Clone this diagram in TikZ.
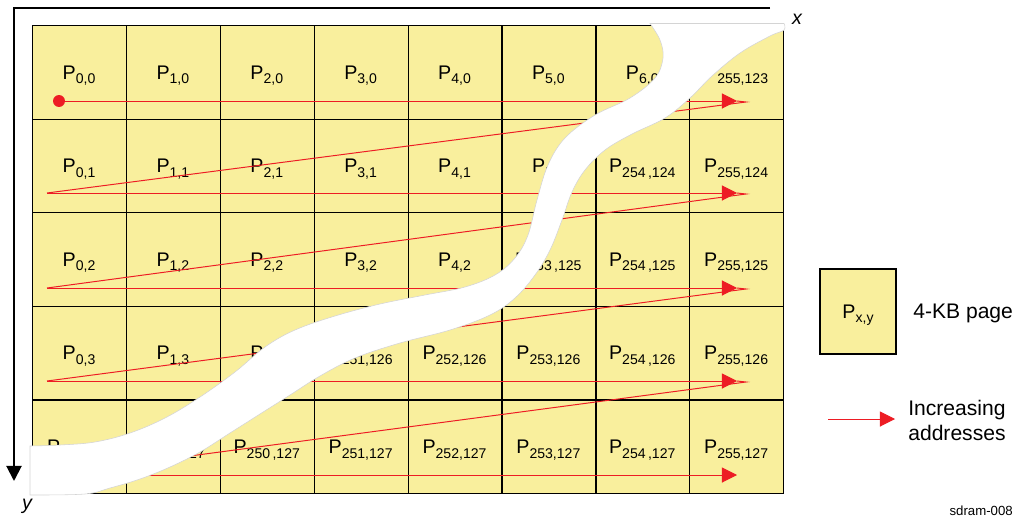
\documentclass[tikz,border=0pt]{standalone}
\usepackage{fontspec}
\setmainfont{Liberation Sans}
\usetikzlibrary{arrows.meta}
\definecolor{PageFill}{HTML}{F9EF9D}
\definecolor{AddrRed}{HTML}{ED1C24}
\definecolor{CutEdge}{HTML}{D4D4D4}
\newcommand{\pg}[1]{P\raisebox{-3.4pt}{\fontsize{10}{12}\selectfont #1}}
\tikzset{
  every node/.style={font=\fontsize{14}{17}\selectfont, inner sep=0pt},
  page/.style={draw=black, line width=0.9pt, fill=PageFill, minimum width=2.347cm, minimum height=2.34cm},
  axis/.style={-{Triangle[length=10.7pt,width=10.7pt]}, draw=black, line width=1.4pt},
  addr/.style={draw=AddrRed, line width=0.7pt},
  addrhead/.style={-{Triangle[length=10.7pt,width=10.7pt]}, draw=AddrRed, line width=0.7pt},
  dot/.style={circle, fill=AddrRed, minimum size=8.5pt},
  cut/.style={fill=white, draw=CutEdge, line width=0.4pt},
  keytext/.style={font=\fontsize{15}{17.8}\selectfont},
}

\begin{document}
\begin{tikzpicture}[x=0.025cm, y=-0.025cm]
  \useasboundingbox (0,0) rectangle (1016,519);
  % 8 x 5 grid of pages
  \foreach \r in {0,...,4}
    \foreach \c in {0,...,7}
      \node[page, anchor=north west] (p-\c-\r) at ({32+93.875*\c},{25+93.6*\r}) {};
  % page labels, row by row
  \foreach \row [count=\r from 0] in {
      {{0,0},{1,0},{2,0},{3,0},{4,0},{5,0},{6,0},{255,123}},
      {{0,1},{1,1},{2,1},{3,1},{4,1},{5,1},{254\,,124},{255,124}},
      {{0,2},{1,2},{2,2},{3,2},{4,2},{253\,,125},{254\,,125},{255,125}},
      {{0,3},{1,3},{2,3},{251,126},{252,126},{253,126},{254\,,126},{255,126}},
      {{248,127},{249,127},{250\,,127},{251,127},{252,127},{253,127},{254\,,127},{255,127}}}
    \foreach \lab [count=\c from 0] in \row
      \node[anchor=base] (lab-\c-\r) at ({79+93.875*\c},{79+93.6*\r}) {\pg{\lab}};

  % increasing addresses
  \node[dot] (start) at (59,101) {};
  \foreach \r/\y in {0/101,1/193,2/288,3/381,4/475} {
    \coordinate (back\r) at (47,\y);
    \coordinate (head\r) at (737,\y);
    \coordinate (turn\r) at (746,{\y+1});
  }
  \draw[addrhead] (start) -- (head0);
  \foreach \r [evaluate=\r as \n using int(\r+1)] in {0,...,3} {
    \draw[addr] (head\r) -- (turn\r) -- (back\n);
    \draw[addrhead] (back\n) -- (head\n);
  }

  % torn band across the grid
  \filldraw[cut] plot[smooth, tension=0.6] coordinates {
      (650,23.5) (660,40) (663,58) (655,78) (630,98) (595,115) (565,138)
      (548,165) (537,200) (528,235) (515,258) (495,275) (465,287) (425,295)
      (380,304) (335,316) (295,330) (265,347) (235,372) (200,397) (165,418)
      (130,433) (95,442) (60,445) (30,446)}
    -- plot[smooth, tension=0.6] coordinates {
      (30,495) (85,494) (110,488) (140,479) (170,467) (200,452) (230,433)
      (260,414) (290,395) (320,376) (355,358) (400,343) (450,330) (490,315)
      (515,298) (535,275) (550,250) (562,220) (572,192) (585,170) (605,150)
      (632,134) (665,118) (690,98) (712,76) (740,53) (770,36) (784,30)
      (784,23.5)}
    -- cycle;

  % axes
  \coordinate (xend) at (770,8);
  \coordinate (origin) at (14,8);
  \coordinate (yend) at (14,481);
  \draw[axis] (xend) -- (origin) -- (yend);
  \node[anchor=base] (xlab) at (797,25) {\itshape x};
  \node[anchor=base] (ylab) at (27,509) {\itshape y};

  % legend
  \node[page, minimum width=1.9cm, minimum height=2.125cm] (key) at (858,311.5) {};
  \node[anchor=base] (keylab) at (858,318) {\pg{x,y}};
  \node[keytext, anchor=base west] (keytxt) at (913,318) {4-KB page};
  \coordinate (keytail) at (828,419);
  \coordinate (keyhead) at (895,419);
  \draw[addrhead] (keytail) -- (keyhead);
  \node[keytext, anchor=north west, align=left] (keyaddr) at (908,400) {Increasing\\addresses};
  \node[anchor=base east, font=\fontsize{9.4}{11}\selectfont] (figid) at (1013,515) {sdram-008};
\end{tikzpicture}
\end{document}
